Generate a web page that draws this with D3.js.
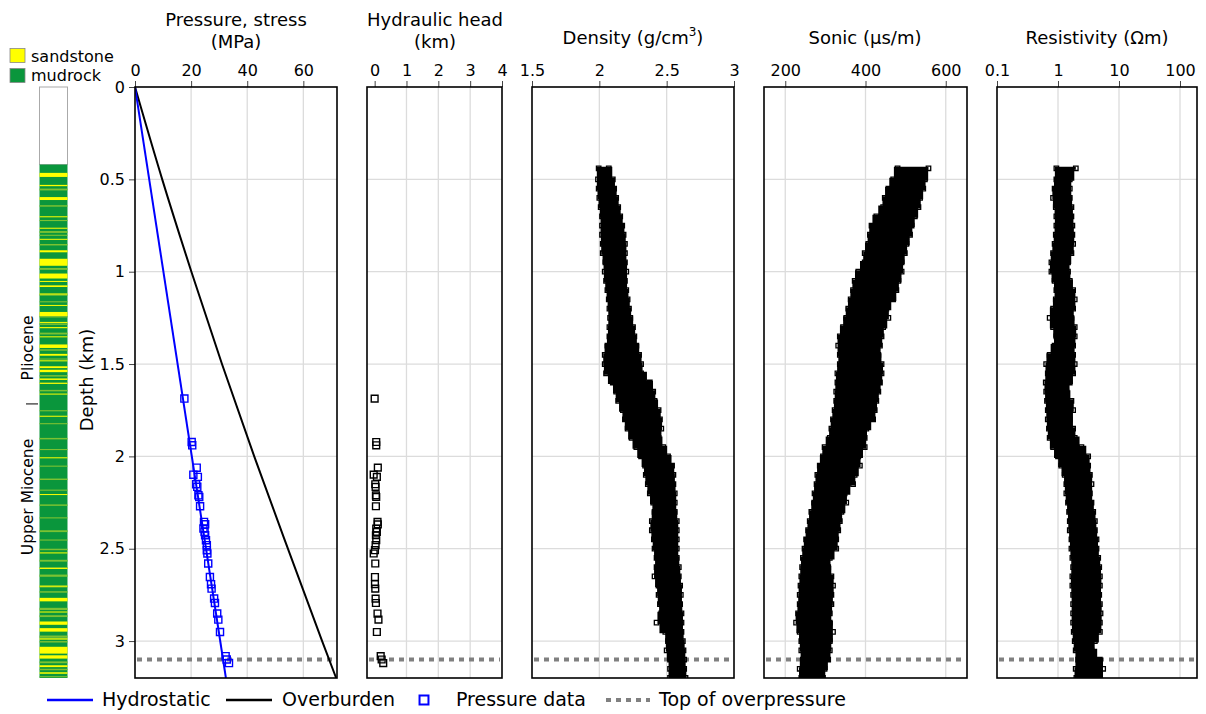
<!DOCTYPE html>
<html><head><meta charset="utf-8">
<script src="https://cdn.jsdelivr.net/npm/d3@7/dist/d3.min.js"></script>
<style>
body{margin:0;background:#fff;}
text{font-family:"DejaVu Sans",Verdana,sans-serif;fill:#000;}
</style>
</head><body>
<svg id="c" width="1206" height="714"></svg>
<script>
// ---------------- DATA ----------------
const depthTicks = [0, 0.5, 1, 1.5, 2, 2.5, 3];
const pressureTicks = [0, 20, 40, 60];
const headTicks = [0, 1, 2, 3, 4];
const densityTicks = [1.5, 2, 2.5, 3];
const sonicTicks = [200, 400, 600];
const resistTicks = [0.1, 1, 10, 100];

const hydroDepth = [0, 3.2];
const hydroP = [0, 32.4];
const obDepth = [0, 0.5, 1.0, 1.5, 2.0, 2.5, 3.0, 3.2];
const obP = [0, 9.7, 20.1, 31.0, 42.5, 54.5, 66.7, 71.7];

const pressDepth = [1.687,1.922,1.940,2.061,2.099,2.111,2.151,2.165,2.211,2.220,2.270,2.355,2.368,2.391,2.409,2.427,2.454,2.481,2.508,2.526,2.580,2.653,2.692,2.716,2.770,2.794,2.851,2.884,2.951,3.082,3.100,3.119];
const pressVal = [17.6,20.2,20.4,22.0,20.8,22.4,21.8,22.2,22.6,22.9,23.2,24.6,25.0,24.4,24.8,25.0,25.3,25.6,25.6,25.8,26.1,26.7,27.1,27.3,28.2,28.5,29.3,29.7,30.3,32.3,32.7,33.5];
const headVal = [0.0,0.05,0.05,0.10,-0.03,0.07,0.02,0.03,0.04,0.05,0.04,0.09,0.10,0.05,0.07,0.04,0.05,0.03,0.01,-0.03,0.02,0.01,0.01,0.02,0.03,0.04,0.09,0.12,0.07,0.19,0.22,0.27];

const topOverpressure = 3.1;

const logDepth = [0.44,0.50,0.55,0.60,0.65,0.70,0.75,0.80,0.85,0.90,0.95,1.00,1.05,1.10,1.15,1.20,1.25,1.30,1.35,1.40,1.45,1.50,1.55,1.60,1.65,1.70,1.75,1.80,1.85,1.90,1.95,2.00,2.05,2.10,2.15,2.20,2.25,2.30,2.35,2.40,2.45,2.50,2.55,2.60,2.65,2.70,2.75,2.80,2.85,2.90,2.95,3.00,3.05,3.10,3.15,3.20];
const densLo = [1.995,1.99,1.995,2.0,2.01,2.02,2.02,2.02,2.025,2.025,2.045,2.04,2.05,2.06,2.07,2.075,2.08,2.075,2.075,2.06,2.04,2.04,2.05,2.1,2.125,2.14,2.175,2.19,2.21,2.24,2.275,2.31,2.34,2.345,2.36,2.375,2.4,2.41,2.39,2.39,2.405,2.41,2.425,2.425,2.41,2.44,2.44,2.45,2.46,2.425,2.49,2.51,2.5,2.525,2.525,2.525];
const densHi = [2.07,2.1,2.11,2.125,2.14,2.155,2.17,2.18,2.19,2.19,2.19,2.2,2.19,2.2,2.21,2.22,2.23,2.25,2.26,2.275,2.295,2.31,2.31,2.375,2.4,2.41,2.44,2.45,2.46,2.44,2.475,2.51,2.54,2.55,2.55,2.56,2.56,2.56,2.575,2.575,2.575,2.575,2.575,2.59,2.59,2.6,2.605,2.6,2.61,2.61,2.61,2.62,2.625,2.63,2.63,2.64];
const sonicLo = [480,469,457,448,444,427,415,411,407,398,398,382,373,369,363,357,352,344,336,332,336,336,330,330,327,327,323,319,315,311,298,294,286,280,278,273,272,265,261,257,252,248,244,242,240,238,236,236,232,227,236,240,240,244,236,240];
const sonicHi = [557,548,544,536,532,523,515,511,502,498,490,490,482,477,469,452,457,444,440,436,432,440,440,436,432,427,423,419,402,398,398,382,386,373,369,348,352,340,336,332,327,327,311,307,315,319,315,315,311,311,319,311,311,307,298,294];
const resLo = [0.94,0.94,0.88,0.83,0.92,0.94,0.94,0.92,0.88,0.83,0.78,0.78,0.88,0.94,0.92,0.83,0.73,0.83,0.94,0.88,0.73,0.64,0.68,0.63,0.64,0.66,0.68,0.68,0.71,0.73,0.83,1.0,1.13,1.29,1.37,1.37,1.46,1.52,1.56,1.56,1.66,1.66,1.72,1.77,1.72,1.72,1.77,1.77,1.77,1.77,1.81,1.88,1.95,2.14,1.95,2.0];
const resHi = [1.96,1.56,1.56,1.56,1.66,1.66,1.72,1.72,1.77,1.66,1.46,1.46,1.56,1.77,1.88,1.77,1.66,1.88,1.88,1.77,1.77,1.88,1.77,1.56,1.37,1.66,1.77,1.56,1.77,1.88,2.42,3.12,3.12,3.33,3.54,3.33,3.54,3.78,4.02,4.02,4.28,4.28,4.56,4.74,4.86,4.86,4.74,4.86,4.98,4.86,4.86,4.02,3.54,4.86,5.5,4.86];

const lithTop = 0.42;
const lithBottom = 3.2;
const sandTop =    [0.465,0.530,0.596,0.700,0.762,0.822,0.884,0.930,1.010,1.050,1.074,1.118,1.180,1.218,1.272,1.300,1.350,1.394,1.445,1.480,1.512,1.531,1.578,1.602,1.660,1.780,2.005,2.204,2.520,2.604,2.700,2.766,2.840,2.894,2.930,2.985,3.031,3.077,3.131,3.169];
const sandBottom = [0.487,0.537,0.612,0.705,0.767,0.827,0.895,0.968,1.037,1.055,1.083,1.123,1.185,1.240,1.277,1.306,1.355,1.413,1.455,1.485,1.522,1.544,1.586,1.606,1.664,1.783,2.008,2.207,2.524,2.608,2.705,2.785,2.845,2.912,2.949,2.992,3.068,3.095,3.141,3.177];
const siltTop =    [0.55,0.64,0.72,0.78,0.80,0.85,0.98,1.12,1.16,1.24,1.28,1.33,1.42,1.47,1.56,1.60,1.64,1.75,1.82,1.90,1.96,2.05,2.12,2.18,2.26,2.33,2.40,2.45,2.50,2.56,2.60,2.64,2.70,2.73,2.82,2.86,2.97,3.00,3.11,3.15,3.19];
const siltThick = [0.01,0.008,0.006,0.01,0.006,0.008,0.01,0.01,0.006,0.008,0.008,0.01,0.008,0.006,0.008,0.006,0.008,0.006,0.006,0.008,0.006,0.006,0.008,0.006,0.008,0.006,0.01,0.006,0.008,0.01,0.008,0.012,0.01,0.008,0.012,0.01,0.012,0.008,0.01,0.008,0.006];
const epochNames = ["Pliocene", "Upper Miocene"];
const epochBoundary = 1.716;

// ---------------- DRAW ----------------
const svg = d3.select("#c");
const Y0 = 87, Y1 = 678;
const y = d3.scaleLinear().domain([0, 3.2]).range([Y0, Y1]);
const GREEN = "#0a963c", YELLOW = "#ffff00", SILT = "#7cc232";

const panels = [
  {key:"p", x:d3.scaleLinear().domain([0,72]).range([135,337]), ticks:pressureTicks, grid:[20,40,60], fmt:d3.format("d")},
  {key:"h", x:d3.scaleLinear().domain([-0.24,4]).range([367,502]), ticks:headTicks, grid:[1,2,3], fmt:d3.format("d")},
  {key:"d", x:d3.scaleLinear().domain([1.5,3]).range([532,734]), ticks:densityTicks, grid:[2,2.5], fmt:d=>String(d)},
  {key:"s", x:d3.scaleLinear().domain([147,653]).range([764,967]), ticks:sonicTicks, grid:[200,400,600], fmt:d3.format("d")},
  {key:"r", x:d3.scaleLog().domain([0.1,190]).range([997,1197]), ticks:resistTicks, grid:[1,10,100], fmt:d=>String(d)}
];
const P = {}; panels.forEach(p=>P[p.key]=p);

const defs = svg.append("defs");
panels.forEach(p=>{
  const [a,b] = p.x.range();
  defs.append("clipPath").attr("id","clip-"+p.key).append("rect")
    .attr("x",a).attr("y",Y0).attr("width",b-a).attr("height",Y1-Y0);
});

panels.forEach(p=>{
  const [a,b] = p.x.range();
  const g = svg.append("g");
  g.selectAll(".gv").data(p.grid).enter().append("line")
    .attr("x1",d=>p.x(d)).attr("x2",d=>p.x(d)).attr("y1",Y0).attr("y2",Y1)
    .attr("stroke","#dcdcdc").attr("stroke-width",1.3);
  g.selectAll(".gh").data(depthTicks.slice(1)).enter().append("line")
    .attr("x1",a).attr("x2",b).attr("y1",d=>y(d)).attr("y2",d=>y(d))
    .attr("stroke","#dcdcdc").attr("stroke-width",1.3);
  const ax = svg.append("g").attr("transform",`translate(0,${Y0})`)
    .call(d3.axisTop(p.x).tickValues(p.ticks).tickFormat(p.fmt).tickSize(6).tickSizeOuter(0).tickPadding(5));
  ax.select(".domain").remove();
  ax.selectAll("line").attr("stroke","#444");
  ax.selectAll("text").attr("font-size",16).attr("font-family","DejaVu Sans").attr("fill","#000");
  g.append("line").attr("x1",a+2).attr("x2",b-2).attr("y1",y(topOverpressure)).attr("y2",y(topOverpressure))
    .attr("stroke","#808080").attr("stroke-width",4).attr("stroke-dasharray","5,5");
  p.g = g;
});

// depth axis
const dax = svg.append("g").attr("transform","translate(135,0)")
  .call(d3.axisLeft(y).tickValues(depthTicks).tickFormat(d=>String(d)).tickSize(6).tickSizeOuter(0).tickPadding(4));
dax.select(".domain").remove();
dax.selectAll("line").attr("stroke","#444");
dax.selectAll("text").attr("font-size",16).attr("font-family","DejaVu Sans").attr("fill","#000");
svg.append("text").attr("transform","translate(93,380) rotate(-90)").attr("text-anchor","middle")
  .attr("font-size",18).text("Depth (km)");

// pressure panel
const pg = P.p.g.append("g").attr("clip-path","url(#clip-p)");
const lineP = d3.line().x(d=>P.p.x(d[1])).y(d=>y(d[0])).curve(d3.curveMonotoneY);
pg.append("path").datum(obDepth.map((d,i)=>[d,obP[i]])).attr("d",lineP)
  .attr("fill","none").attr("stroke","#000").attr("stroke-width",2);
pg.append("path").datum(hydroDepth.map((d,i)=>[d,hydroP[i]])).attr("d",lineP)
  .attr("fill","none").attr("stroke","#0000ff").attr("stroke-width",2);
pg.selectAll(".pd").data(pressDepth.map((d,i)=>[d,pressVal[i]])).enter().append("path")
  .attr("d",d3.symbol().type(d3.symbolSquare).size(50)()).attr("transform",d=>`translate(${P.p.x(d[1])},${y(d[0])})`)
  .attr("fill","none").attr("stroke","#0000ff").attr("stroke-width",1.4);

// head panel
const hg = P.h.g.append("g").attr("clip-path","url(#clip-h)");
hg.selectAll(".hd").data(pressDepth.map((d,i)=>[d,headVal[i]])).enter().append("path")
  .attr("d",d3.symbol().type(d3.symbolSquare).size(46)()).attr("transform",d=>`translate(${P.h.x(d[1])},${y(d[0])})`)
  .attr("fill","none").attr("stroke","#000").attr("stroke-width",1.4);

// logs
function drawLog(p, lo, hi){
  const data = logDepth.map((d,i)=>({d, lo:lo[i], hi:hi[i]}));
  const g = p.g.append("g").attr("clip-path",`url(#clip-${p.key})`);
  g.append("path").datum(data)
    .attr("d", d3.area().y(d=>y(d.d)).x0(d=>p.x(d.lo)).x1(d=>p.x(d.hi)).curve(d3.curveStep))
    .attr("fill","#000").attr("stroke","#000").attr("stroke-width",3).attr("stroke-linejoin","miter");
  const pts = [];
  data.forEach(d=>{ pts.push([d.d,d.lo]); pts.push([d.d,d.hi]); });
  g.selectAll(".m").data(pts).enter().append("path")
    .attr("d",d3.symbol().type(d3.symbolSquare).size(20)())
    .attr("transform",d=>`translate(${p.x(d[1])},${y(d[0])})`)
    .attr("fill","none").attr("stroke","#000").attr("stroke-width",1.3);
}
drawLog(P.d, densLo, densHi);
drawLog(P.s, sonicLo, sonicHi);
drawLog(P.r, resLo, resHi);

// panel borders
panels.forEach(p=>{
  const [a,b] = p.x.range();
  svg.append("rect").attr("x",a).attr("y",Y0).attr("width",b-a).attr("height",Y1-Y0)
    .attr("fill","none").attr("stroke","#000").attr("stroke-width",1.6);
});

// titles
function title(x, lines){
  lines.forEach(([t,yy])=>svg.append("text").attr("x",x).attr("y",yy).attr("text-anchor","middle").attr("font-size",18).text(t));
}
title(236, [["Pressure, stress",26],["(MPa)",48]]);
title(435, [["Hydraulic head",26],["(km)",48]]);
const dt = svg.append("text").attr("x",633).attr("y",44).attr("text-anchor","middle").attr("font-size",18);
dt.append("tspan").text("Density (g/cm");
dt.append("tspan").attr("font-size",12).attr("dy",-8).text("3");
dt.append("tspan").attr("dy",8).text(")");
title(865, [["Sonic (\u00b5s/m)",44]]);
title(1097, [["Resistivity (\u03a9m)",44]]);

// lithology column
const LX0 = 39.5, LX1 = 67.5;
const lx = d3.scaleLinear().domain([0,1]).range([LX0,LX1]);
const lg = svg.append("g");
lg.append("rect").attr("x",lx(0)).attr("y",y(0)).attr("width",lx(1)-lx(0)).attr("height",y(lithTop)-y(0))
  .attr("fill","#fff").attr("stroke","#aaa").attr("stroke-width",1);
lg.append("rect").attr("x",lx(0)).attr("y",y(lithTop)).attr("width",lx(1)-lx(0)).attr("height",y(lithBottom)-y(lithTop))
  .attr("fill",GREEN);
lg.selectAll(".silt").data(siltTop.map((t,i)=>[t,t+siltThick[i]])).enter().append("rect")
  .attr("x",lx(0)).attr("width",lx(1)-lx(0)).attr("y",d=>y(d[0])).attr("height",d=>Math.max(1,y(d[1])-y(d[0])))
  .attr("fill",SILT);
lg.selectAll(".sand").data(sandTop.map((t,i)=>[t,sandBottom[i]])).enter().append("rect")
  .attr("x",lx(0)).attr("width",lx(1)-lx(0)).attr("y",d=>y(d[0])).attr("height",d=>Math.max(1,y(d[1])-y(d[0])))
  .attr("fill",YELLOW);
// epoch labels
svg.append("text").attr("transform","translate(33,348) rotate(-90)").attr("text-anchor","middle")
  .attr("font-size",15.5).text(epochNames[0]);
svg.append("text").attr("transform","translate(33,497) rotate(-90)").attr("text-anchor","middle")
  .attr("font-size",15.5).text(epochNames[1]);
svg.append("line").attr("x1",26).attr("x2",38).attr("y1",y(epochBoundary)).attr("y2",y(epochBoundary))
  .attr("stroke","#000").attr("stroke-width",1);

// lithology legend
svg.append("rect").attr("x",10).attr("y",48.5).attr("width",15).attr("height",14).attr("fill",YELLOW).attr("stroke","#888").attr("stroke-width",0.8);
svg.append("rect").attr("x",10).attr("y",68.5).attr("width",15).attr("height",14).attr("fill",GREEN).attr("stroke","#888").attr("stroke-width",0.8);
svg.append("text").attr("x",31).attr("y",62).attr("font-size",16).text("sandstone");
svg.append("text").attr("x",31).attr("y",81).attr("font-size",16).text("mudrock");

// bottom legend
const LY = 700;
svg.append("line").attr("x1",47).attr("x2",93).attr("y1",LY).attr("y2",LY).attr("stroke","#0000ff").attr("stroke-width",2.5);
svg.append("text").attr("x",102).attr("y",LY+6).attr("font-size",19).text("Hydrostatic");
svg.append("line").attr("x1",226).attr("x2",272).attr("y1",LY).attr("y2",LY).attr("stroke","#000").attr("stroke-width",2.5);
svg.append("text").attr("x",282).attr("y",LY+6).attr("font-size",19).text("Overburden");
svg.append("path").attr("d",d3.symbol().type(d3.symbolSquare).size(80)()).attr("transform",`translate(424,${LY})`)
  .attr("fill","none").attr("stroke","#0000ff").attr("stroke-width",2);
svg.append("text").attr("x",456).attr("y",LY+6).attr("font-size",19).text("Pressure data");
svg.append("line").attr("x1",606).attr("x2",650).attr("y1",LY).attr("y2",LY).attr("stroke","#808080").attr("stroke-width",4).attr("stroke-dasharray","5,5");
svg.append("text").attr("x",659).attr("y",LY+6).attr("font-size",19).text("Top of overpressure");
</script>
</body></html>
